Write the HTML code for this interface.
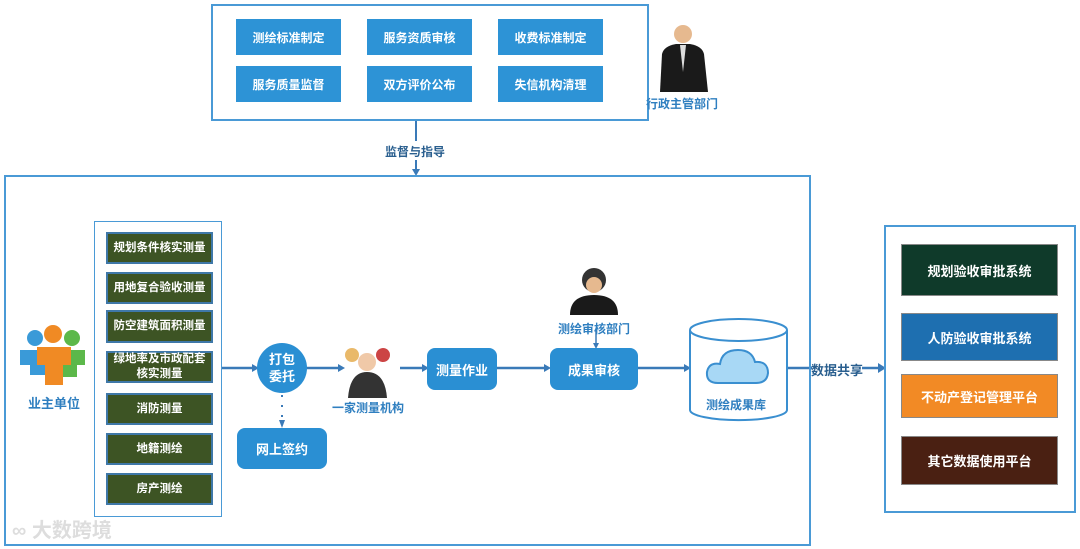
<!DOCTYPE html>
<html><head><meta charset="utf-8"><style>
body{margin:0;width:1080px;height:549px;background:#fff;position:relative;overflow:hidden;font-family:"Liberation Sans","Noto Sans CJK SC",sans-serif;}
.a{position:absolute;box-sizing:border-box;}
.b{background:#2a8fd3;color:#fff;font-size:13px;font-weight:bold;display:flex;align-items:center;justify-content:center;}
.t{font-size:12px;background:#2d93d6;}
.g{background:#3d5424;border:2px solid #3f78a8;color:#fff;font-size:11.5px;font-weight:bold;display:flex;align-items:center;justify-content:center;text-align:center;line-height:15px;left:106px;width:107px;}
.r{left:901px;width:157px;color:#fff;font-size:13px;font-weight:bold;display:flex;align-items:center;justify-content:center;border:1px solid #888;}
.lbl{color:#2f7fc0;font-size:12px;font-weight:bold;white-space:nowrap;}
</style></head><body>
<div class="a" style="left:211px;top:4px;width:438px;height:117px;border:2px solid #4a9ad6"></div>
<div class="a b t" style="left:236px;top:19px;width:105px;height:36px">测绘标准制定</div>
<div class="a b t" style="left:367px;top:19px;width:105px;height:36px">服务资质审核</div>
<div class="a b t" style="left:498px;top:19px;width:105px;height:36px">收费标准制定</div>
<div class="a b t" style="left:236px;top:66px;width:105px;height:36px">服务质量监督</div>
<div class="a b t" style="left:367px;top:66px;width:105px;height:36px">双方评价公布</div>
<div class="a b t" style="left:498px;top:66px;width:105px;height:36px">失信机构清理</div>
<svg class="a" style="left:650px;top:12px" width="70" height="85"><circle cx="33" cy="22" r="9" fill="#e6b98f"/><path d="M10 80 L12 42 Q14 34 26 32 L40 32 Q52 34 54 42 L58 80Z" fill="#1a1a1a"/><path d="M30 33 L33 60 L36 33Z" fill="#ddd"/></svg>
<div class="a lbl" style="left:646px;top:95px;color:#2f7fc0">行政主管部门</div>
<div class="a lbl" style="left:385px;top:143px;color:#2a5f8f">监督与指导</div>
<svg class="a" style="left:0;top:0" width="1080" height="549">
<line x1="416" y1="121" x2="416" y2="141" stroke="#3a7ab8" stroke-width="2"/>
<line x1="416" y1="160" x2="416" y2="171" stroke="#3a7ab8" stroke-width="2"/>
<path d="M412 169 L416 176 L420 169Z" fill="#3a7ab8"/>
<g stroke="#3a7ab8" stroke-width="2.5">
<line x1="221" y1="368" x2="254" y2="368"/><line x1="306" y1="368" x2="340" y2="368"/>
<line x1="400" y1="368" x2="424" y2="368"/><line x1="497" y1="368" x2="546" y2="368"/>
<line x1="638" y1="368" x2="686" y2="368"/><line x1="787" y1="368" x2="812" y2="368"/>
<line x1="862" y1="368" x2="880" y2="368"/>
<line x1="596" y1="330" x2="596" y2="345" stroke-width="1.5"/>
</g>
<g fill="#3a7ab8"><path d="M252 364 L259 368 L252 372Z"/><path d="M338 364 L345 368 L338 372Z"/><path d="M422 364 L429 368 L422 372Z"/><path d="M544 364 L551 368 L544 372Z"/><path d="M684 364 L691 368 L684 372Z"/><path d="M878 363 L886 368 L878 373Z"/><path d="M593 343 L596 349 L599 343Z"/><path d="M279 420 L282 428 L285 420Z"/></g>
<line x1="282" y1="395" x2="282" y2="420" stroke="#3a7ab8" stroke-width="2" stroke-dasharray="2 8"/>
<path d="M690 330 L690 410 A48 10 0 0 0 787 410 L787 330" fill="#fff" stroke="#3a8fd0" stroke-width="2"/>
<ellipse cx="738.5" cy="330" rx="48.5" ry="11" fill="#fff" stroke="#3a8fd0" stroke-width="2"/>
<path d="M718 383 Q706 383 707 372 Q709 362 720 364 Q722 350 738 350 Q752 350 755 362 Q768 361 768 373 Q767 383 756 383Z" fill="#a8d8f5" stroke="#3a8fd0" stroke-width="2"/>
<circle cx="282" cy="368" r="25" fill="#2a8fd3"/>
<circle cx="35" cy="338" r="8" fill="#3a9ad8"/><circle cx="72" cy="338" r="8" fill="#5cb84a"/><circle cx="53" cy="334" r="9" fill="#f08a24"/>
<path d="M20 350 h30 v25 h-20 v-10 h-10z" fill="#3a9ad8"/><path d="M58 350 h27 v15 h-8 v12 h-19z" fill="#5cb84a"/><path d="M37 347 h34 v18 h-8 v20 h-18 v-20 h-8z" fill="#f08a24"/>
<circle cx="352" cy="355" r="7" fill="#e9b96a"/><circle cx="383" cy="355" r="7" fill="#c44"/><circle cx="367" cy="362" r="9" fill="#f0c9a8"/>
<path d="M348 398 Q350 372 367 372 Q385 372 387 398Z" fill="#333"/>
<circle cx="594" cy="280" r="12" fill="#333"/><circle cx="594" cy="285" r="8" fill="#e6b98f"/>
<path d="M570 315 Q570 295 594 295 Q618 295 618 315Z" fill="#1a1a1a"/>
</svg>
<div class="a" style="left:4px;top:175px;width:807px;height:371px;border:2px solid #4a9ad6"></div>
<div class="a" style="left:94px;top:221px;width:128px;height:296px;border:1.5px solid #4a9ad6"></div>
<div class="a g" style="top:232px;height:32px">规划条件核实测量</div>
<div class="a g" style="top:272px;height:32px">用地复合验收测量</div>
<div class="a g" style="top:310px;height:33px">防空建筑面积测量</div>
<div class="a g" style="top:351px;height:32px">绿地率及市政配套<br>核实测量</div>
<div class="a g" style="top:393px;height:32px">消防测量</div>
<div class="a g" style="top:433px;height:32px">地籍测绘</div>
<div class="a g" style="top:473px;height:32px">房产测绘</div>
<div class="a lbl" style="left:28px;top:393px;font-size:13px">业主单位</div>
<div class="a" style="left:257px;top:351px;width:50px;color:#fff;font-size:13px;font-weight:bold;text-align:center;line-height:17px">打包<br>委托</div>
<div class="a lbl" style="left:332px;top:399px">一家测量机构</div>
<div class="a b" style="left:237px;top:428px;width:90px;height:41px;border-radius:8px">网上签约</div>
<div class="a b" style="left:427px;top:348px;width:70px;height:42px;border-radius:8px">测量作业</div>
<div class="a b" style="left:550px;top:348px;width:88px;height:42px;border-radius:8px">成果审核</div>
<div class="a lbl" style="left:558px;top:320px">测绘审核部门</div>
<div class="a lbl" style="left:706px;top:396px">测绘成果库</div>
<div class="a lbl" style="left:811px;top:360px;color:#2a5f8f;font-size:13px">数据共享</div>
<div class="a" style="left:884px;top:225px;width:192px;height:288px;border:2px solid #4a9ad6"></div>
<div class="a r" style="top:244px;height:52px;background:#0f3a2a">规划验收审批系统</div>
<div class="a r" style="top:313px;height:48px;background:#1e6fb0">人防验收审批系统</div>
<div class="a r" style="top:374px;height:44px;background:#f28a25">不动产登记管理平台</div>
<div class="a r" style="top:436px;height:49px;background:#4a2012">其它数据使用平台</div>
<div class="a" style="left:12px;top:514px;color:#ddd;font-size:20px;font-weight:bold">∞ 大数跨境</div>
</body></html>
